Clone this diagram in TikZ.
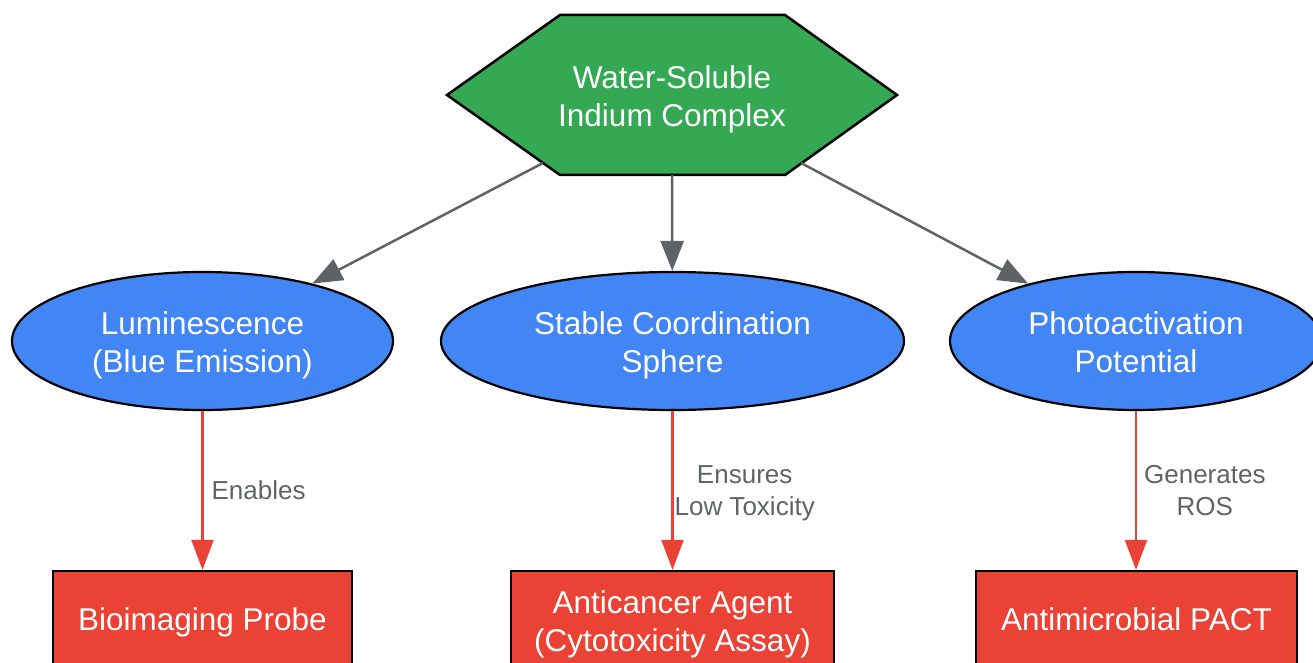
\documentclass[tikz,border=0pt]{standalone}
\usepackage{fontspec}
\setmainfont{Liberation Sans}
\usetikzlibrary{shapes.geometric,arrows.meta}
\definecolor{hexgreen}{HTML}{34A853}
\definecolor{ellblue}{HTML}{4285F4}
\definecolor{boxred}{HTML}{EA4335}
\definecolor{edgegray}{HTML}{5F6368}
\tikzset{
  maintext/.style={text=white,font=\fontsize{31.5}{38}\selectfont,align=center},
  twolines/.style={text height=63pt,text depth=0pt},
  oneline/.style={text height=21pt,text depth=0pt},
  ellnode/.style={ellipse,draw=black,line width=2.2pt,fill=ellblue,inner sep=0pt,minimum height=138pt,maintext,twolines},
  boxnode/.style={rectangle,draw=black,line width=2.2pt,fill=boxred,inner sep=0pt,minimum height=98pt,maintext},
  grayarrow/.style={draw=edgegray,line width=2.5pt,-{Triangle[length=30pt,width=23pt]}},
  redarrow/.style={draw=boxred,line width=2.2pt,-{Triangle[length=30pt,width=22pt]}},
  lbl/.style={text=edgegray,font=\fontsize{26}{32}\selectfont,align=center,inner sep=0pt,anchor=west},
  lbltwo/.style={text height=50.8pt,text depth=0pt}
}
\begin{document}
\begin{tikzpicture}[x=1pt,y=-1pt]
\useasboundingbox (0,0) rectangle (1313,663);
\clip (0,0) rectangle (1313,663);
% hexagon
\draw[fill=hexgreen,line width=2.5pt,line join=miter] (560,15) -- (785,15) -- (897,95) -- (785,175) -- (560,175) -- (447,95) -- cycle;
\node[maintext,twolines,inner sep=0pt] (hex) at (672,95.5) {Water-Soluble\\Indium Complex};
\coordinate (hexL) at (543,163);
\coordinate (hexM) at (672,175);
\coordinate (hexR) at (801,163);
% ellipses
\node[ellnode,minimum width=381pt] (lum) at (202.5,341) {Luminescence\\(Blue Emission)};
\node[ellnode,minimum width=463pt] (stab) at (672.5,341) {Stable Coordination\\Sphere};
\node[ellnode,minimum width=372pt] (photo) at (1136,341) {Photoactivation\\Potential};
% boxes
\node[boxnode,oneline,minimum width=299pt] (bio) at (202.5,620) {Bioimaging Probe};
\node[boxnode,twolines,minimum width=323pt] (anti) at (672.5,620) {Anticancer Agent\\(Cytotoxicity Assay)};
\node[boxnode,oneline,minimum width=321pt] (pact) at (1136.5,620) {Antimicrobial PACT};
% gray arrows
\draw[grayarrow] (hexL) -- (lum);
\draw[grayarrow] (hexM) -- (stab);
\draw[grayarrow] (hexR) -- (photo);
% red arrows
\draw[redarrow] (lum.south) -- node[lbl,xshift=8pt] (l1) {Enables} (lum.south |- bio.north);
\draw[redarrow] (stab.south) -- node[lbl,lbltwo,xshift=1pt] (l2) {Ensures\\Low Toxicity} (stab.south |- anti.north);
\draw[redarrow] (photo.south) -- node[lbl,lbltwo,xshift=7pt] (l3) {Generates\\ROS} (photo.south |- pact.north);
\end{tikzpicture}
\end{document}
